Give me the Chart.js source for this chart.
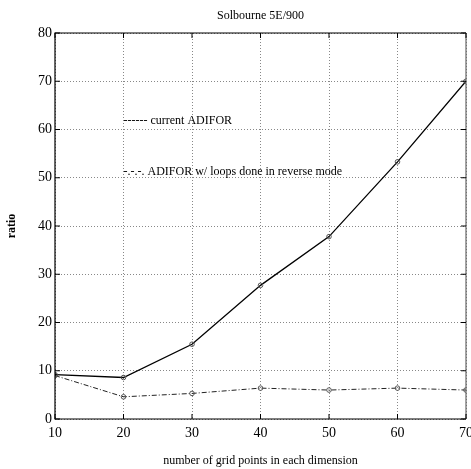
<!DOCTYPE html>
<html>
<head>
<meta charset="utf-8">
<title>Solbourne 5E/900</title>
<script src="https://cdn.jsdelivr.net/npm/chart.js@4.4.1/dist/chart.umd.min.js"></script>
<style>
  html, body { margin: 0; padding: 0; background: #fff; }
  canvas { display: block; }
</style>
</head>
<body>
<canvas id="ratioChart" width="471" height="469"></canvas>
<script>
// values
const gridPoints = [10, 20, 30, 40, 50, 60, 70];
const currentAdifor = [9.2, 8.6, 15.5, 27.7, 37.8, 53.3, 70.0];
const reverseMode = [9.0, 4.6, 5.3, 6.4, 6.0, 6.4, 6.0];
const seriesNames = ['current ADIFOR', 'ADIFOR w/ loops done in reverse mode'];
const legendMarks = ['------', '-.-.-.'];

const SERIF = '"Liberation Serif", "DejaVu Serif", serif';

function toPoints(values) {
  return gridPoints.map((x, i) => ({ x: x, y: values[i] }));
}

// frame, inward ticks, title and the in-plot legend text
const framePlugin = {
  id: 'frame',
  afterDraw(chart) {
    const { ctx, chartArea: a, scales } = chart;
    const xs = scales.x, ys = scales.y;
    ctx.save();
    ctx.strokeStyle = '#000';
    ctx.lineWidth = 1.2;
    ctx.beginPath();
    ctx.moveTo(a.right, a.top);
    ctx.lineTo(a.left, a.top);
    ctx.lineTo(a.left, a.bottom);
    ctx.lineTo(a.right, a.bottom);
    ctx.stroke();
    ctx.strokeStyle = '#666';
    ctx.beginPath();
    ctx.moveTo(a.right, a.top);
    ctx.lineTo(a.right, a.bottom);
    ctx.stroke();

    ctx.strokeStyle = '#000';
    ctx.lineWidth = 1;
    ctx.beginPath();
    xs.ticks.forEach(t => {
      const px = xs.getPixelForValue(t.value);
      ctx.moveTo(px, a.bottom); ctx.lineTo(px, a.bottom - 5);
      ctx.moveTo(px, a.top); ctx.lineTo(px, a.top + 5);
    });
    ys.ticks.forEach(t => {
      const py = ys.getPixelForValue(t.value);
      ctx.moveTo(a.left, py); ctx.lineTo(a.left + 5, py);
      ctx.moveTo(a.right, py); ctx.lineTo(a.right - 5, py);
    });
    ctx.stroke();

    ctx.fillStyle = '#000';
    ctx.font = '12px ' + SERIF;
    ctx.textAlign = 'center';
    ctx.textBaseline = 'middle';
    ctx.fillText('Solbourne 5E/900', (a.left + a.right) / 2, 16);

    ctx.textAlign = 'left';
    ctx.font = '12px ' + SERIF;
    const lx = xs.getPixelForValue(20);
    const rows = [61.7, 51.3];
    rows.forEach((v, i) => {
      const py = ys.getPixelForValue(v);
      const mark = legendMarks[i];
      ctx.fillText(mark, lx, py);
      const w = ctx.measureText(mark + ' ').width;
      ctx.fillText(seriesNames[i], lx + w, py);
    });
    ctx.restore();
  }
};

new Chart(document.getElementById('ratioChart'), {
  type: 'line',
  data: {
    datasets: [
      {
        label: seriesNames[0],
        data: toPoints(currentAdifor),
        borderColor: '#000',
        borderWidth: 1.3,
        pointRadius: 2.3,
        pointBorderColor: '#555',
        pointBackgroundColor: 'rgba(255,255,255,0)',
        pointBorderWidth: 1,
        tension: 0
      },
      {
        label: seriesNames[1],
        data: toPoints(reverseMode),
        borderColor: '#222',
        borderWidth: 1,
        borderDash: [5, 2, 1, 2],
        pointRadius: 2.3,
        pointBorderColor: '#555',
        pointBackgroundColor: 'rgba(255,255,255,0)',
        pointBorderWidth: 1,
        tension: 0
      }
    ]
  },
  options: {
    responsive: false,
    animation: false,
    layout: { padding: { top: 33, right: 4, left: 0, bottom: 0 } },
    plugins: {
      legend: { display: false },
      tooltip: { enabled: false },
      title: { display: false }
    },
    scales: {
      x: {
        type: 'linear',
        min: 10,
        max: 70,
        ticks: { stepSize: 10, color: '#000', padding: 6, font: { family: SERIF, size: 14 } },
        grid: { color: '#888', drawTicks: false, tickBorderDash: [1, 2] },
        border: { display: false, dash: [1, 2] },
        title: {
          display: true,
          text: 'number of grid points in each dimension',
          color: '#000',
          font: { family: SERIF, size: 12 },
          padding: { top: 0, bottom: 1 }
        },
        afterFit(scale) {
          scale.height = 50;
          scale.paddingLeft = 0;
          scale.paddingRight = 0;
        }
      },
      y: {
        min: 0,
        max: 80,
        ticks: { stepSize: 10, color: '#000', padding: 3, font: { family: SERIF, size: 14 } },
        grid: { color: '#888', drawTicks: false, tickBorderDash: [1, 2] },
        border: { display: false, dash: [1, 2] },
        title: {
          display: true,
          text: 'ratio',
          color: '#000',
          font: { family: SERIF, size: 12, weight: 'bold' },
          padding: { top: 5, bottom: 0 }
        },
        afterFit(scale) {
          scale.width = 55;
          scale.paddingTop = 0;
          scale.paddingBottom = 0;
        }
      }
    }
  },
  plugins: [framePlugin]
});
</script>
</body>
</html>
